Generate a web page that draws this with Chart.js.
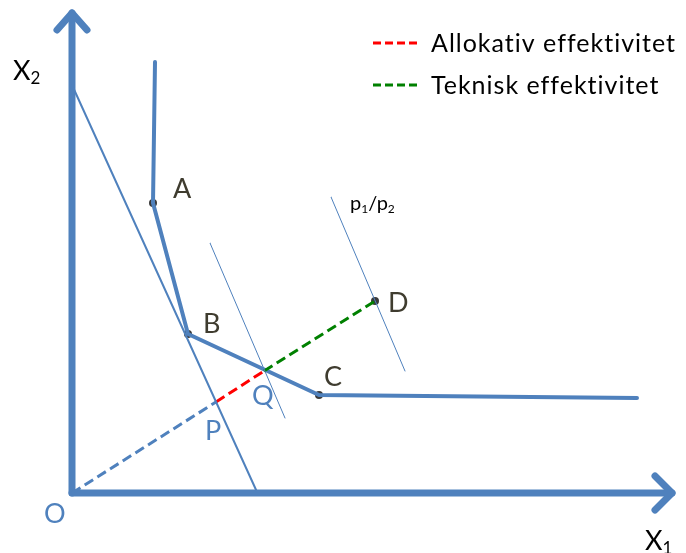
<!DOCTYPE html>
<html>
<head>
<meta charset="utf-8">
<script src="https://cdn.jsdelivr.net/npm/chart.js@4.4.0/dist/chart.umd.min.js"></script>
<style>
  html, body { margin: 0; padding: 0; background: #fff; }
  #chart { display: block; }
</style>
</head>
<body>
<canvas id="chart" width="686" height="553"></canvas>
<script>
// All coordinates are measured from the origin O (X1 to the right, X2 upwards)
const axisX1 = [{x: 0, y: 0}, {x: 600, y: 0}];
const axisX2 = [{x: 0, y: 0}, {x: 0, y: 480}];
const arrowX1 = [{x: 583, y: 17}, {x: 600, y: 0}, {x: 583, y: -17}];
const arrowX2 = [{x: -15, y: 463}, {x: 0, y: 480}, {x: 15, y: 463}];

// isoquant through the efficient units A, B, C
const isoquant = [{x: 83, y: 431}, {x: 81, y: 290}, {x: 116, y: 159}, {x: 247, y: 98}, {x: 565, y: 95}];

// price lines (slope p1/p2)
const priceLine = [{x: 0, y: 408}, {x: 185, y: 1}];
const priceLineQ = [{x: 138, y: 250}, {x: 213, y: 75}];
const priceLineD = [{x: 259, y: 296}, {x: 333, y: 122}];

// ray from O to the observed unit D
const rayOP = [{x: 0, y: 0}, {x: 144, y: 91}];
const rayPQ = [{x: 144, y: 91}, {x: 192, y: 122}];
const rayQD = [{x: 192, y: 122}, {x: 303, y: 192}];

const unitNames = ['A', 'B', 'C', 'D'];
const units = [{x: 81, y: 290}, {x: 116, y: 159}, {x: 247, y: 98}, {x: 303, y: 192}];

const legendNames = ['Allokativ effektivitet', 'Teknisk effektivitet'];
const legendColors = ['#ff0000', '#008000'];

const blue = '#4f81bd';
const font = 'Lato, "Open Sans", sans-serif';

function line(data, color, width, dash) {
  return {
    data: data,
    showLine: true,
    borderColor: color,
    borderWidth: width,
    borderDash: dash || [],
    pointRadius: 0,
    borderCapStyle: dash ? 'butt' : 'round',
    borderJoinStyle: 'round',
    tension: 0
  };
}

// text labels, placed in the same coordinates as the data
const textLabels = [
  {parts: [[unitNames[0]]], x: 101, y: 295, color: '#3f3c2f', size: 27},
  {parts: [[unitNames[1]]], x: 131, y: 160, color: '#3f3c2f', size: 27},
  {parts: [[unitNames[2]]], x: 252, y: 107, color: '#3f3c2f', size: 27},
  {parts: [[unitNames[3]]], x: 316, y: 181, color: '#3f3c2f', size: 27},
  {parts: [['Q']], x: 180, y: 88, color: blue, size: 27},
  {parts: [['P']], x: 133, y: 53, color: blue, size: 27},
  {parts: [['O']], x: -28, y: -30, color: blue, size: 27},
  {parts: [['X'], ['2', 1]], x: -59, y: 413, color: '#000', size: 27},
  {parts: [['X'], ['1', 1]], x: 573, y: -57, color: '#000', size: 27},
  {parts: [['p'], ['1', 1], ['/p'], ['2', 1]], x: 278, y: 283, color: '#000', size: 20}
];

function drawParts(ctx, parts, px, py, size) {
  let cx = px;
  parts.forEach(p => {
    const sub = p[1];
    const s = sub ? Math.round(size * 0.62) : size;
    ctx.font = s + 'px ' + font;
    ctx.fillText(p[0], cx, sub ? py + size * 0.14 : py);
    cx += ctx.measureText(p[0]).width;
  });
}

const diagramText = {
  id: 'diagramText',
  afterDatasetsDraw(chart) {
    const {ctx, scales: {x, y}} = chart;
    ctx.save();
    ctx.textBaseline = 'alphabetic';
    ctx.textAlign = 'left';
    textLabels.forEach(l => {
      ctx.fillStyle = l.color;
      drawParts(ctx, l.parts, x.getPixelForValue(l.x), y.getPixelForValue(l.y), l.size);
    });

    // legend with dashed line samples
    legendNames.forEach((name, i) => {
      const ly = 43 + i * 42;
      ctx.strokeStyle = legendColors[i];
      ctx.lineWidth = 3;
      ctx.setLineDash([8, 4]);
      ctx.beginPath();
      ctx.moveTo(373, ly);
      ctx.lineTo(420, ly);
      ctx.stroke();
      ctx.fillStyle = '#000';
      ctx.font = '25px ' + font;
      ctx.letterSpacing = '1px';
      ctx.fillText(name, 431, ly + 9);
    });
    ctx.restore();
  }
};

new Chart(document.getElementById('chart'), {
  type: 'scatter',
  data: {
    datasets: [
      line(priceLine, blue, 2),
      line(priceLineQ, blue, 1),
      line(priceLineD, blue, 1),
      line(rayOP, blue, 3, [10, 5]),
      line(rayPQ, '#ff0000', 3, [10, 5]),
      line(rayQD, '#008000', 3, [10, 5]),
      line(isoquant, blue, 4),
      line(axisX1, blue, 7),
      line(axisX2, blue, 7),
      line(arrowX1, blue, 7),
      line(arrowX2, blue, 7),
      {
        data: units,
        showLine: false,
        pointRadius: 4,
        pointBackgroundColor: '#3a3a3a',
        pointBorderWidth: 0
      }
    ]
  },
  options: {
    responsive: false,
    animation: false,
    layout: {padding: 0, autoPadding: false},
    plugins: {legend: {display: false}, tooltip: {enabled: false}},
    scales: {
      x: {type: 'linear', min: -72, max: 614, display: false},
      y: {type: 'linear', min: -60, max: 493, display: false}
    }
  },
  plugins: [diagramText]
});
</script>
</body>
</html>
